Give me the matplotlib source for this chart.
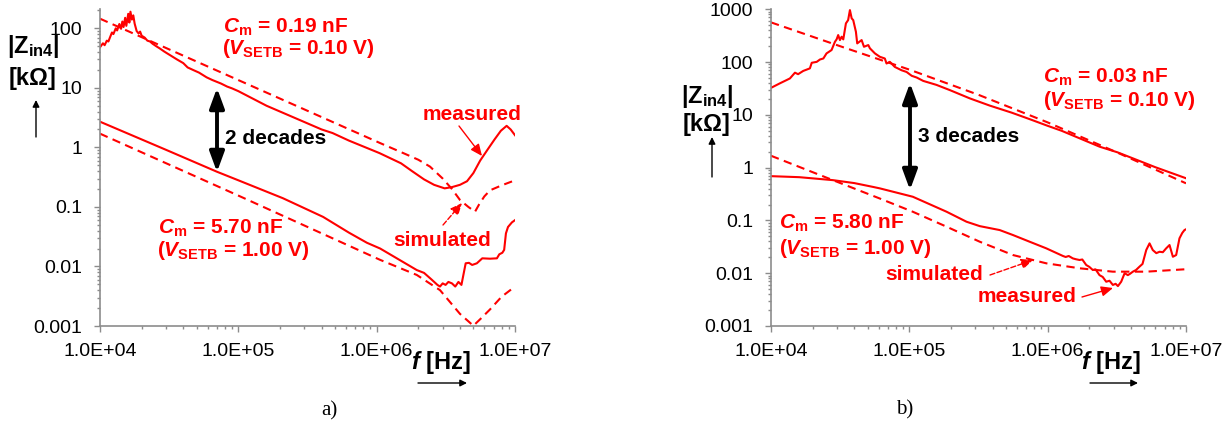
import numpy as np
import matplotlib
matplotlib.use('Agg')
import matplotlib.pyplot as plt
from matplotlib.ticker import FixedLocator, LogLocator, NullFormatter
from matplotlib.patches import FancyArrowPatch

plt.rcParams['font.family'] = ['Liberation Sans', 'DejaVu Sans']
plt.rcParams['mathtext.fontset'] = 'custom'
plt.rcParams['mathtext.rm'] = 'Liberation Sans:bold'
plt.rcParams['mathtext.it'] = 'Liberation Sans:italic:bold'
plt.rcParams['mathtext.bf'] = 'Liberation Sans:bold'

# ---- axis ticks ----
x_ticks = [1e4, 1e5, 1e6, 1e7]
x_tick_labels = ['1.0E+04', '1.0E+05', '1.0E+06', '1.0E+07']
ya_ticks = [1e-3, 1e-2, 1e-1, 1, 10, 100]
ya_labels = ['0.001', '0.01', '0.1', '1', '10', '100']
yb_ticks = [1e-3, 1e-2, 1e-1, 1, 10, 100, 1000]
yb_labels = ['0.001', '0.01', '0.1', '1', '10', '100', '1000']

# ---- panel a) : frequency [Hz], |Zin4| [kOhm] ----
# Cm = 0.19 nF measured
fa_hi_meas = [1.00e4, 1.05e4, 1.08e4, 1.12e4, 1.15e4, 1.18e4, 1.22e4, 1.25e4, 1.30e4, 1.33e4,
              1.38e4, 1.42e4, 1.45e4, 1.48e4, 1.52e4, 1.55e4, 1.60e4, 1.63e4, 1.66e4, 1.70e4,
              1.74e4, 1.78e4, 1.84e4, 1.90e4, 1.95e4, 2.00e4, 2.10e4, 2.20e4, 2.30e4, 2.40e4,
              2.55e4, 2.70e4, 2.90e4, 3.00e4, 3.30e4, 3.60e4, 4.00e4, 4.30e4, 4.70e4, 5.20e4,
              5.90e4, 6.50e4, 7.50e4, 8.30e4, 9.00e4, 1.00e5, 1.60e5, 2.50e5, 4.00e5, 4.80e5,
              6.30e5, 1.05e6, 1.50e6, 1.80e6, 2.20e6, 2.60e6, 3.10e6, 3.50e6, 4.00e6, 4.50e6,
              5.00e6, 5.60e6, 6.30e6, 7.10e6, 7.90e6, 8.70e6, 9.30e6, 1.00e7]
za_hi_meas = [48, 56, 52, 62, 60, 70, 85, 80, 100, 92,
              118, 98, 130, 105, 150, 110, 175, 125, 190, 140,
              165, 120, 90, 82, 88, 75, 70, 62, 60, 55,
              50, 46, 41, 39, 34, 30, 26, 22, 20, 18,
              15, 13.5, 11.8, 10.5, 9.8, 8.8, 5.0, 3.2, 2.0, 1.74,
              1.3, 0.80, 0.54, 0.40, 0.29, 0.235, 0.205, 0.215, 0.235, 0.27,
              0.37, 0.6, 0.9, 1.35, 1.9, 2.3, 2.0, 1.6]
# Cm = 0.19 nF simulated
fa_hi_sim = [1e4, 1e5, 1.06e6, 1.6e6, 2.0e6, 2.43e6, 3.0e6, 3.5e6, 4.0e6, 4.6e6,
             5.14e6, 5.5e6, 6.0e6, 6.6e6, 8.0e6, 1e7]
za_hi_sim = [145, 13.5, 1.18, 0.78, 0.62, 0.475, 0.30, 0.20, 0.131, 0.10,
             0.083, 0.11, 0.15, 0.19, 0.23, 0.28]
# Cm = 5.70 nF measured
fa_lo_meas = [1e4, 3e4, 7e4, 1e5, 2.1e5, 4.1e5, 6.3e5, 8.5e5, 1.06e6, 1.95e6,
              2.2e6, 2.5e6, 2.75e6, 2.87e6, 3.0e6, 3.15e6, 3.3e6, 3.5e6, 3.7e6, 3.9e6,
              4.1e6, 4.25e6, 4.4e6, 4.65e6, 4.9e6, 5.3e6, 5.8e6, 6.6e6, 7.4e6, 7.7e6,
              8.1e6, 8.35e6, 8.6e6, 8.9e6, 9.5e6, 1e7]
za_lo_meas = [2.7, 0.91, 0.39, 0.28, 0.14, 0.068, 0.037, 0.025, 0.020, 0.0087,
              0.0078, 0.006, 0.0049, 0.0046, 0.0052, 0.0049, 0.0055, 0.0052, 0.0046, 0.0055,
              0.0049, 0.0075, 0.0113, 0.0115, 0.0106, 0.0113, 0.0137, 0.0135, 0.0137, 0.016,
              0.017, 0.019, 0.036, 0.046, 0.055, 0.060]
# Cm = 5.70 nF simulated
fa_lo_sim = [1e4, 1e5, 1.06e6, 1.95e6, 2.87e6, 4.0e6, 5.0e6, 5.6e6, 6.6e6, 8.0e6, 1e7]
za_lo_sim = [1.7, 0.155, 0.0129, 0.0072, 0.0040, 0.0016, 0.00101, 0.0013, 0.0019, 0.0031, 0.0046]

# ---- panel b) ----
# Cm = 0.03 nF measured
fb_hi_meas = [1.00e4, 1.08e4, 1.16e4, 1.26e4, 1.37e4, 1.49e4, 1.57e4, 1.71e4, 1.91e4, 1.97e4,
              2.14e4, 2.26e4, 2.39e4, 2.52e4, 2.74e4, 2.90e4, 2.98e4, 3.06e4, 3.15e4, 3.24e4,
              3.33e4, 3.48e4, 3.61e4, 3.72e4, 3.83e4, 3.93e4, 4.11e4, 4.20e4, 4.52e4, 4.70e4,
              5.05e4, 5.19e4, 5.64e4, 6.12e4, 6.65e4, 6.84e4, 7.23e4, 7.85e4, 8.79e4, 9.55e4,
              1.04e5, 1.13e5, 1.26e5, 1.57e5, 1.96e5, 2.74e5, 3.81e5, 5.5e5, 7.5e5, 1.0e6,
              1.26e6, 1.7e6, 2.37e6, 3.2e6, 4.13e6, 6.0e6, 1.0e7]
zb_hi_meas = [32.5, 36, 39.6, 44, 49, 63, 59, 68, 76, 97,
              101, 112, 117, 146, 169, 243, 269, 325, 261, 302,
              269, 541, 624, 966, 673, 624, 375, 226, 261, 195,
              210, 182, 146, 126, 117, 94, 101, 81, 70, 65,
              55, 51, 44, 37, 29.5, 20.5, 15, 11, 8.2, 6.2,
              5.0, 3.6, 2.5, 1.95, 1.5, 1.02, 0.63]
# Cm = 0.03 nF simulated
fb_hi_sim = [1e4, 3.16e4, 1e5, 3.16e5, 1e6, 3.16e6, 1e7]
zb_hi_sim = [565, 200, 72, 24, 7.2, 1.95, 0.505]
# Cm = 5.80 nF measured
fb_lo_meas = [1e4, 1.6e4, 2.8e4, 4.0e4, 5.5e4, 6.12e4, 1.06e5, 1.86e5, 2.59e5, 3.23e5,
              4.5e5, 5.61e5, 7.41e5, 9.77e5, 1.29e6, 1.35e6, 1.42e6, 1.52e6, 1.6e6, 1.7e6,
              1.78e6, 1.9e6, 2.0e6, 2.12e6, 2.22e6, 2.37e6, 2.5e6, 2.65e6, 2.8e6, 2.96e6,
              3.1e6, 3.22e6, 3.4e6, 3.6e6, 3.8e6, 3.95e6, 4.13e6, 4.35e6, 4.61e6, 4.85e6,
              5.16e6, 5.45e6, 5.75e6, 6.1e6, 6.44e6, 6.8e6, 7.19e6, 7.6e6, 8.04e6, 8.49e6,
              8.97e6, 9.4e6, 9.75e6, 1e7]
zb_lo_meas = [0.69, 0.66, 0.58, 0.51, 0.43, 0.405, 0.281, 0.146, 0.0945, 0.078,
              0.0657, 0.0529, 0.0395, 0.0296, 0.0212, 0.0203, 0.0212, 0.0191, 0.0184, 0.0178,
              0.0182, 0.0143, 0.0132, 0.0115, 0.0118, 0.0092, 0.0085, 0.0069, 0.0072, 0.0060,
              0.0063, 0.0057, 0.0069, 0.0100, 0.0092, 0.0098, 0.0107, 0.0115, 0.0133, 0.0150,
              0.0275, 0.0368, 0.0275, 0.0240, 0.0255, 0.0250, 0.0296, 0.0342, 0.0205, 0.0221,
              0.0458, 0.058, 0.0657, 0.068]
# Cm = 5.80 nF simulated
fb_lo_sim = [1e4, 2.8e4, 6.12e4, 1.06e5, 1.86e5, 3.23e5, 5.61e5, 9.77e5, 1.7e6, 2.96e6, 5.16e6, 1e7]
zb_lo_sim = [1.68, 0.58, 0.26, 0.146, 0.076, 0.0395, 0.0221, 0.0154, 0.0124, 0.0107, 0.0107, 0.0119]

RED = '#ff0000'
GRAY = '#8c8c8c'
W, H = 1232, 425

fig = plt.figure(figsize=(W / 100, H / 100), dpi=100)
ax_a = fig.add_axes([100 / W, 1 - 326 / H, 415 / W, 317.5 / H])
ax_b = fig.add_axes([771 / W, 1 - 326 / H, 415 / W, 316.7 / H])


def style(ax, ymax, yticks, ylabels):
    ax.set_xscale('log')
    ax.set_yscale('log')
    ax.set_xlim(1e4, 1e7)
    ax.set_ylim(1e-3, ymax)
    for s in ['top', 'right']:
        ax.spines[s].set_visible(False)
    for s in ['left', 'bottom']:
        ax.spines[s].set_color(GRAY)
        ax.spines[s].set_linewidth(1.2)
    ax.xaxis.set_major_locator(FixedLocator(x_ticks))
    ax.set_xticklabels(x_tick_labels)
    ax.yaxis.set_major_locator(FixedLocator(yticks))
    ax.set_yticklabels(ylabels)
    for axis in (ax.xaxis, ax.yaxis):
        axis.set_minor_locator(LogLocator(base=10, subs=np.arange(2, 10), numticks=20))
        axis.set_minor_formatter(NullFormatter())
    ax.tick_params(which='both', direction='out', color=GRAY, width=1.0, labelsize=14)
    ax.tick_params(which='major', length=4)
    ax.tick_params(which='minor', length=2.5)
    ax.tick_params(axis='y', pad=9)
    ax.tick_params(axis='x', pad=8)


style(ax_a, 215, ya_ticks, ya_labels)
style(ax_b, 1000, yb_ticks, yb_labels)

solid = dict(color=RED, lw=1.5)
dashed = dict(color=RED, lw=1.5, ls=(0, (4, 2.6)))
ax_a.plot(fa_hi_meas, za_hi_meas, **solid)
ax_a.plot(fa_hi_sim, za_hi_sim, **dashed)
ax_a.plot(fa_lo_meas, za_lo_meas, **solid)
ax_a.plot(fa_lo_sim, za_lo_sim, **dashed)
ax_b.plot(fb_hi_meas, zb_hi_meas, **solid)
ax_b.plot(fb_hi_sim, zb_hi_sim, **dashed)
ax_b.plot(fb_lo_meas, zb_lo_meas, **solid)
ax_b.plot(fb_lo_sim, zb_lo_sim, **dashed)


def t(x, y, s, **kw):
    fig.text(x / W, 1 - y / H, s, **kw)


def arrow(x0, y0, x1, y1, **kw):
    fig.add_artist(FancyArrowPatch((x0 / W, 1 - y0 / H), (x1 / W, 1 - y1 / H),
                                   transform=fig.transFigure, shrinkA=0, shrinkB=0, **kw))


red_b = dict(color=RED, fontsize=15, fontweight='bold', va='center', ha='left')
blk_b = dict(color='black', fontsize=15, fontweight='bold', va='center', ha='left')
lab = dict(color='black', fontsize=17, fontweight='bold', va='center', ha='center')

# y / x axis labels
for x0, yz, yk in [(33, 47, 78), (707, 97, 124)]:
    t(x0, yz, r'$\mathrm{|Z_{in4}|}$', **lab)
    t(x0, yk, '[k\u03a9]', **lab)
for xa, y0, y1 in [(36, 137, 100), (712, 177, 137)]:
    arrow(xa, y0, xa, y1, arrowstyle='-|>', mutation_scale=10, lw=1.0, color='black')
for xc, x0, x1 in [(441, 418, 467), (1111, 1090, 1138)]:
    t(xc, 362, r'$f$ [Hz]', **lab)
    arrow(x0, 383, x1, 383, arrowstyle='-|>', mutation_scale=10, lw=1.0, color='black')

t(329, 411, 'a)', fontsize=15, family='Liberation Serif', ha='center', va='center')
t(905, 410, 'b)', fontsize=15, family='Liberation Serif', ha='center', va='center')

big = dict(arrowstyle='<|-|>,head_length=0.6,head_width=0.22', mutation_scale=20, lw=2.8, color='black')
thin = dict(arrowstyle='-|>,head_length=0.5,head_width=0.22', mutation_scale=14, lw=1.0, color=RED)
thin_d = dict(arrowstyle='-|>,head_length=0.5,head_width=0.22', mutation_scale=14, lw=1.0, color=RED, ls='--')

# panel a annotations
t(223, 27, r'$C_{\mathrm{m}}$ = 0.19 nF', **red_b)
t(222, 49, r'($V_{\mathrm{SETB}}$ = 0.10 V)', **red_b)
t(158, 228, r'$C_{\mathrm{m}}$ = 5.70 nF', **red_b)
t(157, 251, r'($V_{\mathrm{SETB}}$ = 1.00 V)', **red_b)
t(225, 138, '2 decades', **blk_b)
arrow(217, 88, 217, 172, **big)
t(423, 115, 'measured', **red_b)
arrow(459, 126, 482, 156, **thin)
t(393, 240, 'simulated', **red_b)
arrow(443, 225, 462, 203, **thin_d)

# panel b annotations
t(1043, 77, r'$C_{\mathrm{m}}$ = 0.03 nF', **red_b)
t(1043, 100, r'($V_{\mathrm{SETB}}$ = 0.10 V)', **red_b)
t(779, 223, r'$C_{\mathrm{m}}$ = 5.80 nF', **red_b)
t(779, 248, r'($V_{\mathrm{SETB}}$ = 1.00 V)', **red_b)
t(918, 137, '3 decades', **blk_b)
arrow(910, 83, 910, 190, **big)
t(885, 275, 'simulated', **red_b)
arrow(990, 275, 1033, 260, **thin_d)
t(978, 297, 'measured', **red_b)
arrow(1082, 297, 1113, 288, **thin)

fig.savefig('out.png', dpi=100)
